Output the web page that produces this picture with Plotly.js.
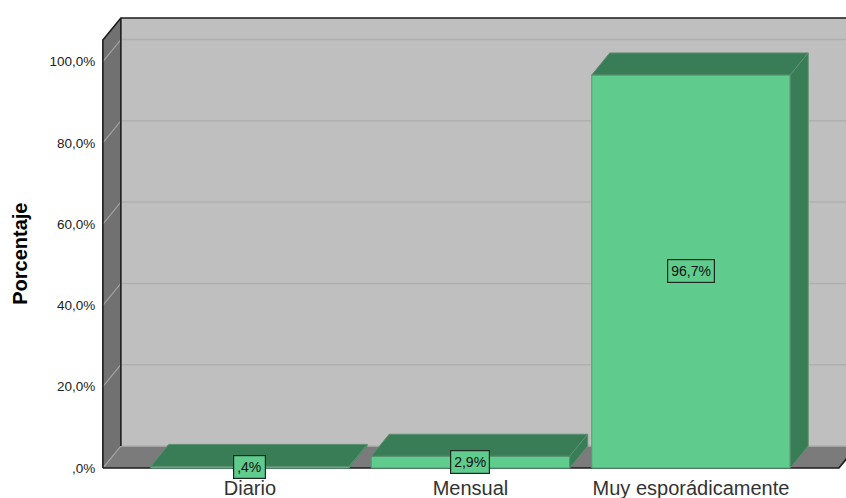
<!DOCTYPE html>
<html>
<head>
<meta charset="utf-8">
<script src="https://cdn.plot.ly/plotly-3.0.1.min.js"></script>
<style>html,body{margin:0;padding:0;background:#fff}</style>
</head>
<body>
<div id="chart" style="width:846px;height:498px"></div>
<script>
// Frequency of use, percentage of respondents
const categories = ["Diario", "Mensual", "Muy esporádicamente"];
const percentages = [0.4, 2.9, 96.7];
const valueLabels = [",4%", "2,9%", "96,7%"];
const tickValues = [0, 20, 40, 60, 80, 100];
const tickLabels = [",0%", "20,0%", "40,0%", "60,0%", "80,0%", "100,0%"];

// Extruded look: how far the back plane sits from the front plane, in axis units
const depthX = 0.0816;
const depthY = 5.41;
const barWidth = 0.9;
const frameLeft = -0.667;
const frameRight = 2.671;
const frameTop = 105.3;

const GREEN = "#5fcb8d";
const GREEN_DARK = "#387d55";
const FONT = "Liberation Sans, Arial, sans-serif";
const poly = pts => "M" + pts.map(p => p[0] + "," + p[1]).join("L") + "Z";
const seg = pts => "M" + pts.map(p => p[0] + "," + p[1]).join("L");

const shape = (path, fill, line, width) => ({
  type: "path", xref: "x", yref: "y", layer: "below", path,
  fillcolor: fill, line: { color: line, width }
});

const shapes = [
  // back wall
  shape(poly([[frameLeft + depthX, depthY], [frameRight + depthX, depthY],
              [frameRight + depthX, frameTop + depthY], [frameLeft + depthX, frameTop + depthY]]),
        "#bfbfbf", "rgba(0,0,0,0)", 0),
  // left wall
  shape(poly([[frameLeft, 0], [frameLeft + depthX, depthY],
              [frameLeft + depthX, frameTop + depthY], [frameLeft, frameTop]]),
        "#717171", "rgba(0,0,0,0)", 0),
  // floor
  shape(poly([[frameLeft, 0], [frameRight, 0], [frameRight + depthX, depthY], [frameLeft + depthX, depthY]]),
        "#7b7b7b", "rgba(0,0,0,0)", 0)
];

// Gridlines run across the left wall and then along the back wall
tickValues.forEach(v => {
  shapes.push(shape(seg([[frameLeft, v], [frameLeft + depthX, v + depthY]]), "rgba(0,0,0,0)", "#a2a2a2", 1.2));
  shapes.push(shape(seg([[frameLeft + depthX, v + depthY], [frameRight + depthX, v + depthY]]),
                    "rgba(0,0,0,0)", "#b0b0b0", 1.5));
});

// Frame edges
shapes.push(shape(seg([[frameLeft, 0], [frameLeft, frameTop], [frameLeft + depthX, frameTop + depthY],
                       [frameRight + depthX, frameTop + depthY]]), "rgba(0,0,0,0)", "#1c1c1c", 1.6));
shapes.push(shape(seg([[frameLeft + depthX, frameTop + depthY], [frameLeft + depthX, depthY]]),
                  "rgba(0,0,0,0)", "#1c1c1c", 1.6));
shapes.push(shape(seg([[frameLeft, 0], [frameRight, 0], [frameRight + depthX, depthY]]),
                  "rgba(0,0,0,0)", "#1c1c1c", 1.6));

const positions = categories.map((_, i) => i);

const frontFaces = {
  type: "bar", x: positions, y: percentages, width: barWidth,
  marker: { color: GREEN, line: { color: "#4b9f70", width: 1 } },
  hoverinfo: "skip", showlegend: false
};

const faceTrace = pts => ({
  type: "scatter", mode: "lines", fill: "toself", fillcolor: GREEN_DARK,
  x: pts.map(p => p[0]), y: pts.map(p => p[1]),
  line: { color: "#5c8f72", width: 1 }, hoverinfo: "skip", showlegend: false
});

const extrusions = [];
positions.forEach((pos, i) => {
  const v = percentages[i];
  const x0 = pos - barWidth / 2, x1 = pos + barWidth / 2;
  extrusions.push(faceTrace([[x0, v], [x1, v], [x1 + depthX, v + depthY], [x0 + depthX, v + depthY], [x0, v]]));
  extrusions.push(faceTrace([[x1, 0], [x1, v], [x1 + depthX, v + depthY], [x1 + depthX, depthY], [x1, 0]]));
});

const annotations = positions.map((pos, i) => ({
  x: pos, y: percentages[i] / 2, xref: "x", yref: "y", text: valueLabels[i],
  showarrow: false, bgcolor: GREEN, bordercolor: "#1c2a22", borderwidth: 1.2, borderpad: 3,
  font: { family: FONT, size: 14, color: "#111" }
}));

// Axis title, placed on the chart's vertical centre
annotations.push({
  x: -0.1075, y: 0.476, xref: "paper", yref: "paper", text: "<b>Porcentaje</b>",
  textangle: -90, showarrow: false, xanchor: "center", yanchor: "middle",
  font: { family: FONT, size: 20, color: "#000" }
});

const layout = {
  width: 846, height: 498,
  margin: { l: 100, r: 0, t: 14, b: 26 },
  paper_bgcolor: "#fff", plot_bgcolor: "#fff",
  showlegend: false, shapes, annotations,
  font: { family: FONT, color: "#222" },
  xaxis: {
    range: [-0.680, 2.703], tickmode: "array", tickvals: positions, ticktext: categories,
    tickfont: { size: 20, color: "#333" }, ticks: "", ticklabelstandoff: 2,
    showgrid: false, zeroline: false, showline: false
  },
  yaxis: {
    range: [-0.984, 111.69], tickmode: "array", tickvals: tickValues, ticktext: tickLabels,
    tickfont: { size: 13.5, color: "#222" }, ticks: "outside", ticklen: 1, tickcolor: "rgba(0,0,0,0)",
    showgrid: false, zeroline: false, showline: false
  }
};

Plotly.newPlot("chart", [frontFaces, ...extrusions], layout, { displayModeBar: false, staticPlot: true });
</script>
</body>
</html>
